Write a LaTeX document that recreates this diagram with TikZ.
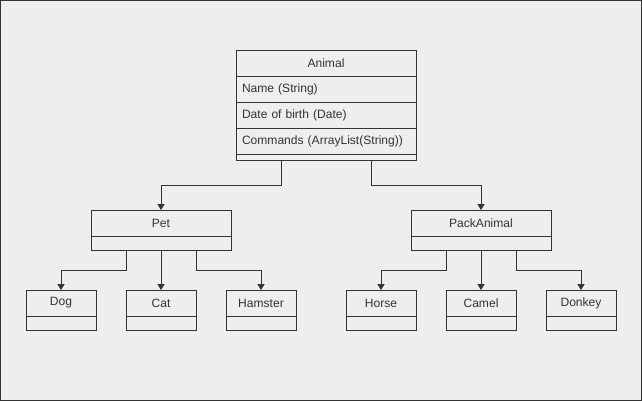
\documentclass[tikz,border=0pt]{standalone}
\usepackage{fontspec}
\setmainfont{Liberation Sans}
\definecolor{bgcolor}{HTML}{EEEEEE}
\definecolor{inkcolor}{HTML}{333333}
\usetikzlibrary{positioning, calc, arrows.meta}

\begin{document}
\begin{tikzpicture}[
  x=0.03cm, y=0.03cm,
  head/.style={draw=inkcolor, line width=0.8pt, outer sep=0pt, minimum width=#1*0.03cm, minimum height=0.78cm,
    inner sep=0pt, anchor=north west, text=inkcolor, font=\fontsize{10.3}{12}\selectfont},
  field/.style={draw=inkcolor, line width=0.8pt, outer sep=0pt, text width=#1*0.03cm-0.36cm, inner xsep=0.18cm,
    inner ysep=0pt, minimum height=0.78cm, align=left, text=inkcolor, font=\fontsize{10.3}{12}\selectfont},
  part/.style 2 args={draw=inkcolor, line width=0.8pt, outer sep=0pt, minimum width=#1*0.03cm,
    minimum height=#2*0.03cm, inner sep=0pt},
  link/.style={draw=inkcolor, line width=0.8pt, -{Triangle[length=5pt, width=6pt]}}
]

% Rahmen + Hintergrund — 1 px = 0.03cm
\useasboundingbox (0,0) rectangle (642,-401);
\draw[draw=inkcolor, fill=bgcolor, line width=0.8pt] (0.5,-0.5) rectangle (641.5,-400.5);

% Basisklasse Animal
\node[head=180] (animal) at (236,-50) {Animal};
\node[field=180, below=0pt of animal.south west, anchor=north west] (name) {Name (String)};
\node[field=180, below=0pt of name.south west, anchor=north west] (birth) {Date of birth (Date)};
\node[field=180, below=0pt of birth.south west, anchor=north west] (cmds) {Commands (ArrayList(String))};
\node[part={180}{6}, below=0pt of cmds.south west, anchor=north west] (animal-ops) {};

% Pet
\node[head=140] (pet) at (91,-210) {Pet};
\node[part={140}{14}, below=0pt of pet.south west, anchor=north west] (pet-ops) {};

% PackAnimal
\node[head=140] (pack) at (411,-210) {PackAnimal};
\node[part={140}{14}, below=0pt of pack.south west, anchor=north west] (pack-ops) {};

% Haustiere
\node[head=70] (dog) at (26,-290) {Dog};
\node[part={70}{14}, below=0pt of dog.south west, anchor=north west] (dog-ops) {};
\node[head=70] (cat) at (126,-290) {Cat};
\node[part={70}{14}, below=0pt of cat.south west, anchor=north west] (cat-ops) {};
\node[head=70] (hamster) at (226,-290) {Hamster};
\node[part={70}{14}, below=0pt of hamster.south west, anchor=north west] (hamster-ops) {};

% Lasttiere
\node[head=70] (horse) at (346,-290) {Horse};
\node[part={70}{14}, below=0pt of horse.south west, anchor=north west] (horse-ops) {};
\node[head=70] (camel) at (446,-290) {Camel};
\node[part={70}{14}, below=0pt of camel.south west, anchor=north west] (camel-ops) {};
\node[head=70] (donkey) at (546,-290) {Donkey};
\node[part={70}{14}, below=0pt of donkey.south west, anchor=north west] (donkey-ops) {};

% Vererbung
\draw[link] ($(animal-ops.south)+(-45,0)$) -- ++(0,-25) -| (pet.north);
\draw[link] ($(animal-ops.south)+(45,0)$) -- ++(0,-25) -| (pack.north);

\draw[link] ($(pet-ops.south)+(-35,0)$) -- ++(0,-20) -| (dog.north);
\draw[link] (pet-ops.south) -- (cat.north);
\draw[link] ($(pet-ops.south)+(35,0)$) -- ++(0,-20) -| (hamster.north);

\draw[link] ($(pack-ops.south)+(-35,0)$) -- ++(0,-20) -| (horse.north);
\draw[link] (pack-ops.south) -- (camel.north);
\draw[link] ($(pack-ops.south)+(35,0)$) -- ++(0,-20) -| (donkey.north);

\end{tikzpicture}
\end{document}
